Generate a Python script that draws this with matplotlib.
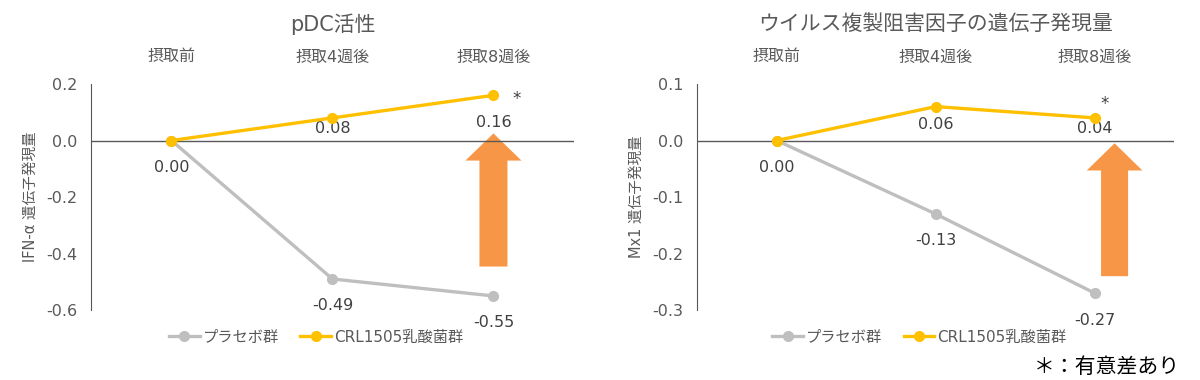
import matplotlib
matplotlib.use("Agg")
import matplotlib.pyplot as plt
from matplotlib.patches import Polygon

plt.rcParams["font.family"] = ["DejaVu Sans", "Noto Sans CJK JP"]

categories = ["摂取前", "摂取4週後", "摂取8週後"]
series_names = ["プラセボ群", "CRL1505乳酸菌群"]

pdc_placebo = [0.00, -0.49, -0.55]
pdc_crl = [0.00, 0.08, 0.16]
pdc_ticks = [0.2, 0.0, -0.2, -0.4, -0.6]

mx1_placebo = [0.00, -0.13, -0.27]
mx1_crl = [0.00, 0.06, 0.04]
mx1_ticks = [0.1, 0.0, -0.1, -0.2, -0.3]

GRAY = "#BFBFBF"
GOLD = "#FFC000"
ORANGE = "#F79646"
TEXT = "#595959"
LABEL = "#404040"


def up_arrow(ax, x0, x1, hx0, hx1, y_bottom, y_base, y_tip):
    pts = [(x0, y_bottom), (x1, y_bottom), (x1, y_base), (hx1, y_base),
           ((hx0 + hx1) / 2, y_tip), (hx0, y_base), (x0, y_base)]
    ax.add_patch(Polygon(pts, closed=True, facecolor=ORANGE, edgecolor="none", zorder=1))


def draw_panel(ax, title, ylabel, placebo, crl, ticks, crl_dy, star_off):
    xs = range(len(categories))
    ax.plot(xs, placebo, color=GRAY, lw=2.4, marker="o", ms=7, label=series_names[0], zorder=3)
    ax.plot(xs, crl, color=GOLD, lw=2.4, marker="o", ms=7, label=series_names[1], zorder=4)
    ax.axhline(0, color="#595959", lw=1, zorder=2)

    ax.set_xlim(-0.5, 2.5)
    ax.set_ylim(min(ticks), max(ticks))
    ax.set_yticks(ticks)
    ax.set_yticklabels([f"{t:.1f}" for t in ticks])
    ax.set_xticks([])
    for s in ("top", "right", "bottom"):
        ax.spines[s].set_visible(False)
    ax.spines["left"].set_color("#595959")
    ax.tick_params(axis="y", length=0, labelsize=11.5, colors=TEXT, pad=10)
    ax.set_ylabel(ylabel, fontsize=10.5, color=TEXT, labelpad=6)

    for i, c in enumerate(categories):
        ax.text(i, 1.12, c, transform=ax.get_xaxis_transform(), ha="center",
                va="center", fontsize=11.5, color=TEXT)
    ax.text(1, 1.265, title, transform=ax.get_xaxis_transform(), ha="center",
            va="center", fontsize=15, color=TEXT)

    for i, v in enumerate(crl):
        if i == 0:
            continue
        ax.annotate(f"{v:.2f}", (i, v), xytext=(0, -crl_dy[i]), textcoords="offset pixels",
                    ha="center", va="center", fontsize=11.5, color=LABEL)
    for i, v in enumerate(placebo):
        ax.annotate(f"{v:.2f}", (i, v), xytext=(0, -27), textcoords="offset pixels",
                    ha="center", va="center", fontsize=11.5, color=LABEL)
    ax.annotate("*", (2, crl[2]), xytext=star_off, textcoords="offset pixels",
                ha="center", va="center", fontsize=12, color=LABEL)

    ax.legend(loc="center", bbox_to_anchor=(0.466, -0.12), ncol=2, frameon=False,
              fontsize=11, labelcolor=TEXT, handlelength=2.0, columnspacing=1.4,
              handletextpad=0.2)


fig = plt.figure(figsize=(12, 3.8), dpi=100)
ax1 = fig.add_axes([0.0758, 0.184, 0.4025, 0.595])
ax2 = fig.add_axes([0.581, 0.184, 0.3975, 0.595])

draw_panel(ax1, "pDC活性", "IFN-α 遺伝子発現量", pdc_placebo, pdc_crl, pdc_ticks,
           [0, 11, 27], (23, -4))
draw_panel(ax2, "ウイルス複製阻害因子の遺伝子発現量", "Mx1 遺伝子発現量", mx1_placebo, mx1_crl,
           mx1_ticks, [0, 18, 11], (10, 14))

up_arrow(ax1, 1.913, 2.087, 1.826, 2.174, -0.446, -0.071, 0.025)
up_arrow(ax2, 2.04, 2.21, 1.95, 2.30, -0.24, -0.053, -0.005)

fig.text(0.983, 0.035, "＊：有意差あり", ha="right", va="center", fontsize=15, color="#000000")

fig.savefig("out.png", dpi=100, facecolor="white")
